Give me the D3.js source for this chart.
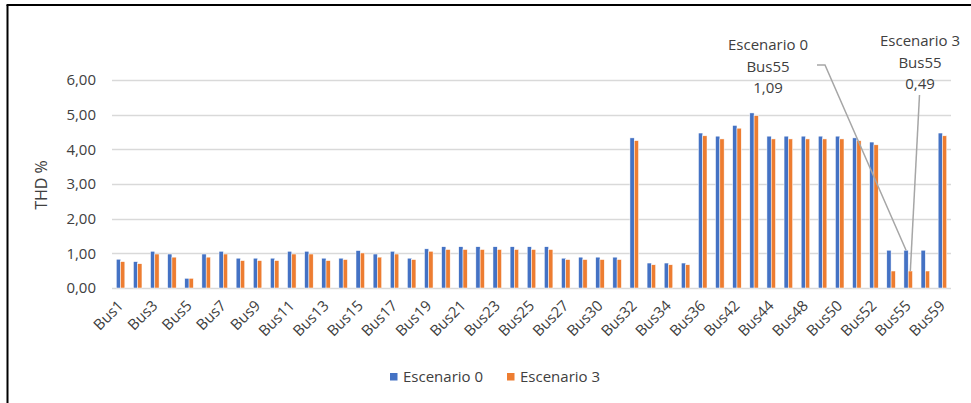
<!DOCTYPE html>
<html>
<head>
<meta charset="utf-8">
<script src="https://cdn.jsdelivr.net/npm/d3@7"></script>
<style>
  body { margin: 0; background: #fff; }
  svg { display: block; font-family: "Open Sans", sans-serif; }
</style>
</head>
<body>
<svg id="chart" width="971" height="403"></svg>
<script>
// categories (only every other one is labelled on the axis)
var buses = ['Bus1','Bus2','Bus3','Bus4','Bus5','Bus6','Bus7','Bus8','Bus9','Bus10',
  'Bus11','Bus12','Bus13','Bus14','Bus15','Bus16','Bus17','Bus18','Bus19','Bus20',
  'Bus21','Bus22','Bus23','Bus24','Bus25','Bus26','Bus27','Bus28','Bus30','Bus31',
  'Bus32','Bus33','Bus34','Bus35','Bus36','Bus37','Bus42','Bus43','Bus44','Bus45',
  'Bus48','Bus49','Bus50','Bus51','Bus52','Bus53','Bus55','Bus56','Bus59'];

var esc0 = [0.83,0.76,1.06,0.98,0.28,0.98,1.06,0.86,0.86,0.86,
  1.06,1.06,0.86,0.86,1.08,0.98,1.06,0.86,1.13,1.19,
  1.19,1.19,1.19,1.19,1.19,1.19,0.86,0.89,0.89,0.89,
  4.33,0.72,0.72,0.72,4.47,4.38,4.69,5.05,4.38,4.38,
  4.38,4.38,4.38,4.33,4.21,1.09,1.09,1.09,4.47];

var esc3 = [0.76,0.70,0.98,0.89,0.28,0.89,0.98,0.79,0.79,0.79,
  0.98,0.98,0.79,0.82,1.01,0.89,0.98,0.82,1.06,1.11,
  1.11,1.11,1.11,1.11,1.11,1.11,0.82,0.82,0.82,0.82,
  4.25,0.67,0.67,0.67,4.39,4.30,4.61,4.97,4.30,4.30,
  4.30,4.30,4.30,4.25,4.13,0.49,0.49,0.49,4.39];

var seriesNames = ['Escenario 0', 'Escenario 3'];
var seriesColors = ['#4472C4', '#ED7D31'];
var yTicks = [0, 1, 2, 3, 4, 5, 6];

var svg = d3.select('#chart');
var textColor = '#404040';

// outer frame (left and top edges of the crop)
svg.append('line').attr('x1', 7.5).attr('y1', 5).attr('x2', 7.5).attr('y2', 403)
  .attr('stroke', '#000').attr('stroke-width', 2);
svg.append('line').attr('x1', 6.5).attr('y1', 5).attr('x2', 971).attr('y2', 5)
  .attr('stroke', '#000').attr('stroke-width', 2);

var x = d3.scaleBand()
  .domain(buses)
  .range([112, 951])
  .paddingInner(0.5)
  .paddingOuter(0.25);

var xs = d3.scaleBand()
  .domain([0, 1])
  .range([0, x.bandwidth()]);

var y = d3.scaleLinear().domain([0, 6]).range([288, 80]);

// gridlines
svg.append('g').selectAll('line')
  .data(yTicks)
  .enter().append('line')
  .attr('x1', 112).attr('x2', 951)
  .attr('y1', function(d) { return Math.round(y(d)) + 0.5; })
  .attr('y2', function(d) { return Math.round(y(d)) + 0.5; })
  .attr('stroke', '#d9d9d9').attr('stroke-width', 1.3);

// y tick labels
svg.append('g').selectAll('text')
  .data(yTicks)
  .enter().append('text')
  .attr('x', 96)
  .attr('y', function(d) { return y(d); })
  .attr('dy', '0.35em')
  .attr('text-anchor', 'end')
  .attr('fill', textColor)
  .style('font-size', '15px')
  .text(function(d) { return d3.format('.2f')(d).replace('.', ','); });

// y title
svg.append('text')
  .attr('transform', 'translate(47,185) rotate(-90)')
  .attr('text-anchor', 'middle')
  .attr('fill', textColor)
  .style('font-size', '16px')
  .text('THD %');

// bars
var series = [esc0, esc3];
series.forEach(function(vals, si) {
  svg.append('g').selectAll('rect')
    .data(vals)
    .enter().append('rect')
    .attr('x', function(d, i) { return x(buses[i]) + xs(si); })
    .attr('width', xs.bandwidth())
    .attr('y', function(d) { return y(d); })
    .attr('height', function(d) { return y(0) - y(d); })
    .attr('fill', seriesColors[si])
    .attr('stroke', '#fff')
    .attr('stroke-width', 0.5);
});

// x labels, every other category
svg.append('g').selectAll('text')
  .data(buses.filter(function(d, i) { return i % 2 === 0; }))
  .enter().append('text')
  .attr('transform', function(d) {
    return 'translate(' + (x(d) + x.bandwidth() / 2) + ',303) rotate(-45)';
  })
  .attr('text-anchor', 'end')
  .attr('dy', '0.35em')
  .attr('fill', textColor)
  .style('font-size', '15px')
  .text(function(d) { return d; });

// data callouts for Bus55
var iAnn = buses.indexOf('Bus55');
var callouts = [
  { lines: ['Escenario 0', 'Bus55', '1,09'], cx: 768, top: 50, s: 0,
    path: function(bx, by) { return [[817, 65], [825, 65], [bx, by]]; } },
  { lines: ['Escenario 3', 'Bus55', '0,49'], cx: 920, top: 46, s: 1,
    path: function(bx, by) { return [[919.5, 95], [bx, by]]; } }
];

callouts.forEach(function(c) {
  var bx = x(buses[iAnn]) + xs(c.s) + xs.bandwidth() / 2;
  var by = y(series[c.s][iAnn]);
  svg.append('path')
    .attr('d', d3.line()(c.path(bx, by)))
    .attr('fill', 'none')
    .attr('stroke', '#a6a6a6')
    .attr('stroke-width', 1.5);
  var t = svg.append('text')
    .attr('text-anchor', 'middle')
    .attr('fill', textColor)
    .style('font-size', '15px');
  c.lines.forEach(function(l, k) {
    t.append('tspan').attr('x', c.cx).attr('y', c.top + k * 21.5).text(l);
  });
});

// legend
var legend = svg.append('g');
var legX = [390, 507];
seriesNames.forEach(function(n, i) {
  legend.append('rect')
    .attr('x', legX[i]).attr('y', 373)
    .attr('width', 7.5).attr('height', 7.5)
    .attr('fill', seriesColors[i]);
  legend.append('text')
    .attr('x', legX[i] + 13).attr('y', 377)
    .attr('dy', '0.35em')
    .attr('fill', textColor)
    .style('font-size', '15px')
    .text(n);
});
</script>
</body>
</html>
